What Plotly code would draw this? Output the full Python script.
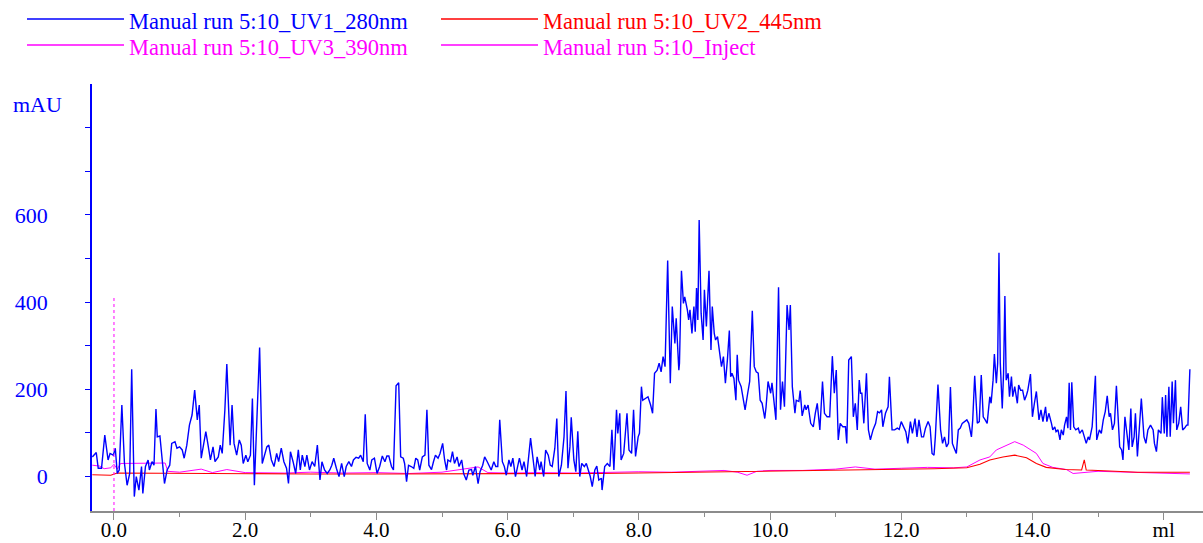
import plotly.graph_objects as go

# ---------------- data ----------------
uv1_ml = [-0.33,-0.27,-0.24,-0.19,-0.14,-0.09,-0.06,-0.01,0.02,0.05,0.08,0.12,0.16,0.20,0.24,0.27,0.31,0.34,0.38,0.42,0.44,0.48,0.52,0.54,0.58,0.61,0.64,0.66,0.70,0.73,0.77,0.81,0.85,0.88,0.93,0.96,1.00,1.04,1.07,1.11,1.15,1.19,1.23,1.27,1.30,1.33,1.37,1.40,1.43,1.47,1.51,1.54,1.59,1.62,1.65,1.69,1.72,1.75,1.77,1.80,1.83,1.87,1.91,1.94,1.97,2.01,2.04,2.08,2.11,2.14,2.18,2.22,2.26,2.30,2.33,2.36,2.40,2.44,2.48,2.51,2.55,2.59,2.63,2.66,2.69,2.73,2.77,2.81,2.84,2.87,2.91,2.94,2.98,3.02,3.06,3.10,3.14,3.17,3.21,3.25,3.29,3.32,3.35,3.39,3.43,3.47,3.51,3.54,3.58,3.62,3.65,3.69,3.73,3.76,3.80,3.83,3.86,3.90,3.93,3.97,4.01,4.05,
          4.09,4.13,4.16,4.19,4.23,4.26,4.30,4.34,4.37,4.41,4.43,4.46,4.49,4.53,4.57,4.60,4.63,4.66,4.70,4.74,4.77,4.80,4.84,4.87,4.90,4.94,4.97,5.01,5.04,5.07,5.09,5.13,5.16,5.19,5.23,5.26,5.30,5.33,5.37,5.41,5.45,5.47,5.51,5.55,5.58,5.62,5.65,5.69,5.72,5.75,5.79,5.82,5.85,5.88,5.92,5.95,5.98,6.02,6.05,6.08,6.12,6.15,6.18,6.22,6.25,6.29,6.32,6.35,6.39,6.42,6.45,6.49,6.51,6.55,6.58,6.62,6.65,6.68,6.72,6.75,6.78,6.82,6.86,6.89,6.92,6.95,6.97,7.01,7.04,7.07,7.10,7.13,7.17,7.20,7.23,7.26,7.29,7.33,7.36,7.39,7.43,
          7.44,7.48,7.52,7.56,7.59,7.62,7.66,7.68,7.71,7.73,7.77,7.82,7.85,7.89,7.92,7.95,7.99,8.01,8.04,8.06,8.10,8.14,8.18,8.21,8.24,8.28,8.31,8.34,8.37,8.40,8.44,8.46,8.48,8.51,8.55,8.57,8.61,8.62,8.65,8.68,8.70,8.74,8.76,8.78,8.81,8.84,8.86,8.88,8.90,8.92,8.95,8.98,9.00,9.03,9.07,9.10,9.12,9.15,9.17,9.20,9.23,9.26,9.29,9.32,9.35,9.38,9.40,9.42,9.45,9.48,9.50,9.52,9.56,9.60,9.62,9.66,9.69,9.73,9.76,9.79,9.82,9.85,9.88,9.92,9.94,9.97,10.01,10.03,10.06,10.09,10.13,10.16,10.19,10.22,10.26,10.29,10.31,10.34,10.38,10.40,10.44,10.46,10.49,10.53,10.55,10.58,10.62,10.66,10.69,10.72,10.76,10.80,10.83,10.87,10.91,10.95,10.98,11.01,11.04,11.07,11.11,11.15,11.17,11.20,
          11.24,11.27,11.30,11.33,11.36,11.38,11.40,11.43,11.47,11.50,11.53,11.57,11.61,11.64,11.67,11.70,11.72,11.76,11.80,11.82,11.86,11.90,11.94,11.97,12.00,12.04,12.07,12.10,12.14,12.17,12.21,12.24,12.27,12.31,12.34,12.37,12.41,12.44,12.47,12.50,12.52,12.56,12.60,12.63,12.66,12.69,12.72,12.75,12.78,12.80,12.84,12.87,12.90,12.93,12.97,13.00,13.03,13.07,13.09,13.12,13.16,13.19,13.22,13.25,13.28,13.31,13.35,13.37,13.40,13.42,13.45,13.47,13.49,13.51,13.54,13.56,13.58,13.60,13.63,13.65,13.68,13.70,13.73,13.77,13.79,13.82,13.85,13.88,13.91,13.93,13.97,14.00,14.03,14.06,14.10,14.13,14.16,14.20,14.22,14.25,14.29,14.31,14.34,14.36,14.39,14.42,14.44,14.47,14.49,14.52,14.54,14.56,14.58,14.60,14.63,14.66,14.70,14.72,14.76,14.79,14.82,14.85,14.87,14.91,14.93,14.96,14.98,15.02,15.05,15.08,15.11,15.14,15.17,15.19,15.22,15.25,15.28,15.30,15.33,15.36,15.38,15.41,15.43,15.47,15.50,15.52,15.55,15.57,15.60,15.62,15.66,15.70,15.73,15.76,15.80,15.84,15.86,15.89,15.92,15.96,15.98,16.01,16.03,16.05,16.08,16.10,16.13,16.15,16.18,16.20,16.23,16.26,16.29,16.32,16.35,16.37,16.40]
uv1_mau = [45,55,19,19,95,38,53,49,65,7,15,164,30,-20,7,246,-46,0,-31,23,-39,23,38,15,34,26,155,91,93,38,-16,15,26,76,80,65,68,61,42,72,118,141,198,130,164,42,76,103,76,38,68,34,45,72,53,152,258,118,72,164,76,49,84,72,30,49,34,49,179,-20,145,296,30,49,68,72,38,23,53,34,65,34,19,-16,57,34,7,61,15,49,23,49,15,34,23,72,-8,34,15,7,15,26,42,19,0,30,0,23,34,23,38,44,42,49,34,143,30,15,38,42,7,23,
           47,34,47,47,23,15,208,215,45,42,30,-12,26,23,19,42,38,15,45,49,153,26,16,34,49,42,53,76,38,15,38,34,57,30,45,23,38,7,-8,15,16,3,23,-16,11,26,45,34,23,15,34,23,23,130,34,23,3,38,23,42,0,23,42,15,34,0,53,88,38,0,45,15,34,0,61,49,26,23,65,133,0,26,91,196,19,68,136,38,11,104,0,30,23,30,15,0,-23,15,24,-8,-4,
           -31,23,30,23,107,15,153,99,145,38,53,145,61,53,153,46,91,99,206,175,179,183,164,145,237,244,260,240,275,252,495,305,214,390,305,363,244,260,472,397,412,382,359,382,328,390,332,432,359,588,374,313,428,344,472,290,390,328,313,321,290,252,275,214,267,335,229,237,225,175,279,221,206,175,153,191,218,380,252,240,237,175,168,133,160,218,191,215,175,130,434,153,218,160,393,336,393,206,145,175,172,197,139,164,153,164,122,114,145,168,107,218,145,137,137,276,191,244,84,122,114,114,76,267,
           275,137,168,107,221,191,191,122,237,107,84,107,122,149,146,153,114,145,160,229,107,107,111,108,126,114,103,76,126,99,133,91,130,91,91,111,126,114,53,49,91,211,107,76,91,68,76,205,76,68,53,107,111,122,126,130,122,91,130,231,122,126,233,137,130,122,183,168,221,281,214,260,513,260,156,237,414,221,237,183,229,183,206,168,210,198,198,175,187,198,235,137,168,195,130,153,126,160,126,145,122,107,114,103,107,84,107,95,118,137,111,215,107,216,114,107,111,99,107,91,76,91,84,114,160,231,84,107,99,130,149,185,137,145,107,122,208,160,68,61,38,137,107,61,156,68,91,145,46,91,179,91,76,107,118,107,76,57,107,99,182,99,187,91,206,91,218,122,221,107,122,160,107,111,118,118,246]

uv2_ml = [-0.33,-0.05,0.05,1.0,2.0,3.0,4.0,5.0,6.0,7.0,7.4,8.0,9.0,10.0,11.0,11.4,12.0,12.5,13.0,13.2,13.35,13.55,13.73,13.91,14.06,14.21,14.5,14.75,14.79,14.82,15.0,15.6,16.4]
uv2_mau = [4,3,8,7,7,6,6,6,6,7,7,8,10,12,15,16,17,18,20,28,38,45,49,43,30,21,16,15,38,15,14,10,10]

uv3_ml = [-0.33,-0.22,-0.15,-0.05,0.0,0.05,0.1,0.4,0.78,0.82,1.0,1.33,1.5,1.72,2.0,2.6,3.0,3.5,4.0,4.5,5.0,5.55,5.7,6.0,6.5,7.0,7.5,8.0,8.5,9.0,9.3,9.5,9.65,9.8,10.0,10.5,11.0,11.3,11.6,12.0,12.4,12.8,13.0,13.2,13.35,13.45,13.6,13.73,13.86,13.98,14.06,14.16,14.31,14.52,14.62,15.0,15.5,16.0,16.4]
uv3_mau = [26,24,18,20,28,17,30,31,31,12,10,17,9,16,9,8,10,8,9,7,10,22,9,8,9,8,9,11,10,12,14,10,3,12,14,14,17,22,17,19,21,20,22,38,45,61,72,80,72,61,53,30,21,16,7,12,10,8,6]

inject_ml = [0.0, 0.0]
inject_mau = [-79, 410]

names = ["Manual run 5:10_UV1_280nm", "Manual run 5:10_UV2_445nm",
         "Manual run 5:10_UV3_390nm", "Manual run 5:10_Inject"]
colors = ["#0000ff", "#ff0000", "#ff00ff", "#ff00ff"]

y_tickvals = [0, 100, 200, 300, 400, 500, 600, 700, 800]
y_ticktext = ["0", "", "200", "", "400", "", "600", "", ""]
x_tickvals = [0, 2, 4, 6, 8, 10, 12, 14, 16]
x_ticktext = ["0.0", "2.0", "4.0", "6.0", "8.0", "10.0", "12.0", "14.0", "ml"]
x_minor = [1, 3, 5, 7, 9, 11, 13, 15]

# ---------------- figure ----------------
W, H = 1203, 543
L, R, T, B = 92, 0, 84, 32
FONT = "Liberation Serif, Times New Roman, serif"

fig = go.Figure()
fig.add_trace(go.Scatter(x=uv3_ml, y=uv3_mau, mode="lines", name=names[2],
                         line=dict(color=colors[2], width=1), showlegend=False))
fig.add_trace(go.Scatter(x=uv2_ml, y=uv2_mau, mode="lines", name=names[1],
                         line=dict(color=colors[1], width=1.1), showlegend=False))
fig.add_trace(go.Scatter(x=uv1_ml, y=uv1_mau, mode="lines", name=names[0],
                         line=dict(color=colors[0], width=1.4), showlegend=False))
fig.add_trace(go.Scatter(x=inject_ml, y=inject_mau, mode="lines", name=names[3],
                         line=dict(color=colors[3], width=1, dash="dot"), showlegend=False))

# manual legend (2 x 2) in paper coordinates
pw, ph = W - L - R, H - T - B
def px2x(px):
    return (px - L) / pw
def py2y(py):
    return (H - B - py) / ph

legend_pos = [(27, 19, 21), (441, 19, 21), (27, 45, 48), (441, 45, 48)]
for (x0, ly, ty), nm, col in zip(legend_pos, names, colors):
    fig.add_shape(type="line", xref="paper", yref="paper",
                  x0=px2x(x0), x1=px2x(x0 + 97), y0=py2y(ly), y1=py2y(ly),
                  line=dict(color=col, width=1.3))
    fig.add_annotation(xref="paper", yref="paper", x=px2x(x0 + 100), y=py2y(ty),
                       text=nm, showarrow=False, xanchor="left", yanchor="middle",
                       font=dict(family=FONT, size=22.5, color=col))

fig.add_annotation(xref="paper", yref="paper", x=px2x(11), y=py2y(104.5),
                   text="mAU", showarrow=False, xanchor="left", yanchor="middle",
                   font=dict(family=FONT, size=22, color="#0000ff"))

fig.update_layout(
    width=W, height=H,
    margin=dict(l=L, r=R, t=T, b=B, pad=0, autoexpand=False),
    plot_bgcolor="white", paper_bgcolor="white",
    font=dict(family=FONT, size=22, color="black"),
    showlegend=False,
    xaxis=dict(range=[-0.335, 16.60], showgrid=False, zeroline=False, automargin=False,
               showline=True, linecolor="#8c8c8c", linewidth=2,
               ticks="outside", ticklen=7, tickwidth=1.2, tickcolor="#8c8c8c",
               tickmode="array", tickvals=x_tickvals, ticktext=x_ticktext,
               tickfont=dict(family=FONT, size=21, color="black"),
               ticklabelstandoff=-8,
               minor=dict(tickmode="array", tickvals=x_minor, ticks="outside",
                          ticklen=4, tickcolor="#8c8c8c", tickwidth=1.2, showgrid=False)),
    yaxis=dict(range=[-79, 900], showgrid=False, zeroline=False, automargin=False,
               showline=True, linecolor="#0000ff", linewidth=1.5,
               ticks="outside", ticklen=5, tickwidth=1.2, tickcolor="#0000ff",
               tickmode="array", tickvals=y_tickvals, ticktext=y_ticktext,
               tickfont=dict(family=FONT, size=22, color="#0000ff"),
               ticklabelstandoff=33),
)

fig.write_html("out.html", config={"displayModeBar": False},
               post_script="document.body.style.margin='0';document.body.style.overflow='hidden';")
